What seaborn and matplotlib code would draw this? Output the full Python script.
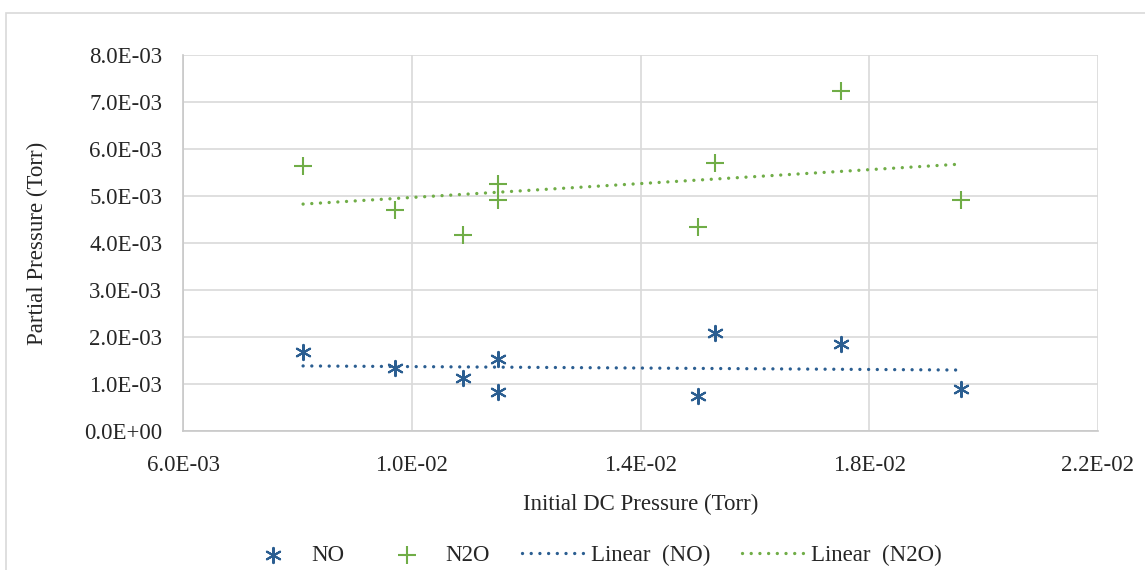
import numpy as np
import pandas as pd
import matplotlib
matplotlib.use("Agg")
import matplotlib.pyplot as plt
from matplotlib.patches import Rectangle
import seaborn as sns

# values (Torr)
dc_pressure = [8.1e-3, 9.7e-3, 1.09e-2, 1.15e-2, 1.15e-2, 1.50e-2, 1.53e-2, 1.75e-2, 1.96e-2]
no_pressure = [1.68e-3, 1.35e-3, 1.12e-3, 1.54e-3, 0.84e-3, 0.75e-3, 2.08e-3, 1.85e-3, 0.90e-3]
n2o_pressure = [5.64e-3, 4.71e-3, 4.16e-3, 5.26e-3, 4.92e-3, 4.33e-3, 5.71e-3, 7.23e-3, 4.91e-3]

x_ticks = [6e-3, 1e-2, 1.4e-2, 1.8e-2, 2.2e-2]
y_ticks = [0, 1e-3, 2e-3, 3e-3, 4e-3, 5e-3, 6e-3, 7e-3, 8e-3]

df = pd.DataFrame({"dc": dc_pressure, "NO": no_pressure, "N2O": n2o_pressure})

# linear trend lines (least squares over the data range)
x_fit = np.array([df["dc"].min(), df["dc"].max()])
fit_no = pd.DataFrame({"dc": x_fit, "y": np.polyval(np.polyfit(df["dc"], df["NO"], 1), x_fit)})
fit_n2o = pd.DataFrame({"dc": x_fit, "y": np.polyval(np.polyfit(df["dc"], df["N2O"], 1), x_fit)})

blue = "#2B5E91"
green = "#70AD47"
fs = 16.5

sns.set_theme(style="white")
plt.rcParams["font.family"] = ["Liberation Serif", "DejaVu Serif"]

fig = plt.figure(figsize=(11.45, 5.7), dpi=100)
ax = fig.add_axes([183 / 1145, 1 - 431 / 570, (1098 - 183) / 1145, (431 - 55) / 570])

dot = (0, (0.01, 2.6))
sns.scatterplot(data=df, x="dc", y="NO", ax=ax, marker=(6, 2, 0), s=120, color=blue,
                linewidth=1.5, edgecolor=blue, label="NO", zorder=3)
sns.scatterplot(data=df, x="dc", y="N2O", ax=ax, marker="+", s=150, color=green,
                linewidth=1.5, label="N2O", zorder=3)
sns.lineplot(data=fit_no, x="dc", y="y", ax=ax, color=blue, lw=2.4, linestyle=dot,
             dash_capstyle="round", label="Linear  (NO)")
sns.lineplot(data=fit_n2o, x="dc", y="y", ax=ax, color=green, lw=2.4, linestyle=dot,
             dash_capstyle="round", label="Linear  (N2O)")

ax.set_xlim(6e-3, 2.2e-2)
ax.set_ylim(0, 8e-3)
ax.set_xticks(x_ticks)
ax.set_yticks(y_ticks)
ax.set_xticklabels(["%.1E" % v for v in x_ticks], fontsize=fs)
ax.set_yticklabels(["%.1E" % v for v in y_ticks], fontsize=fs)
ax.tick_params(axis="y", length=0, pad=15)
ax.tick_params(axis="x", length=0, pad=17)
ax.grid(True, color="#D9D9D9", lw=1.2)
ax.set_axisbelow(True)
for side in ["top", "right"]:
    ax.spines[side].set_visible(False)
for side in ["left", "bottom"]:
    ax.spines[side].set_color("#C8C8C8")
    ax.spines[side].set_linewidth(1.2)

ax.set_xlabel("Initial DC Pressure (Torr)", fontsize=fs, labelpad=13)
ax.set_ylabel("Partial Pressure (Torr)", fontsize=fs, labelpad=26)

handles, labels = ax.get_legend_handles_labels()
if ax.get_legend() is not None:
    ax.get_legend().remove()
fig.legend(handles, labels, loc="center", bbox_to_anchor=(592 / 1145, 1 - 555 / 570), ncol=4,
           frameon=False, fontsize=fs, handlelength=2.7, columnspacing=1.4, handletextpad=0.3)

# chart-area border
fig.patches.append(Rectangle((6 / 1145, -0.05), 1.1, 1 - 13 / 570 + 0.05, transform=fig.transFigure,
                             fill=False, edgecolor="#D9D9D9", lw=1.2))

fig.savefig("out.png", dpi=100)
